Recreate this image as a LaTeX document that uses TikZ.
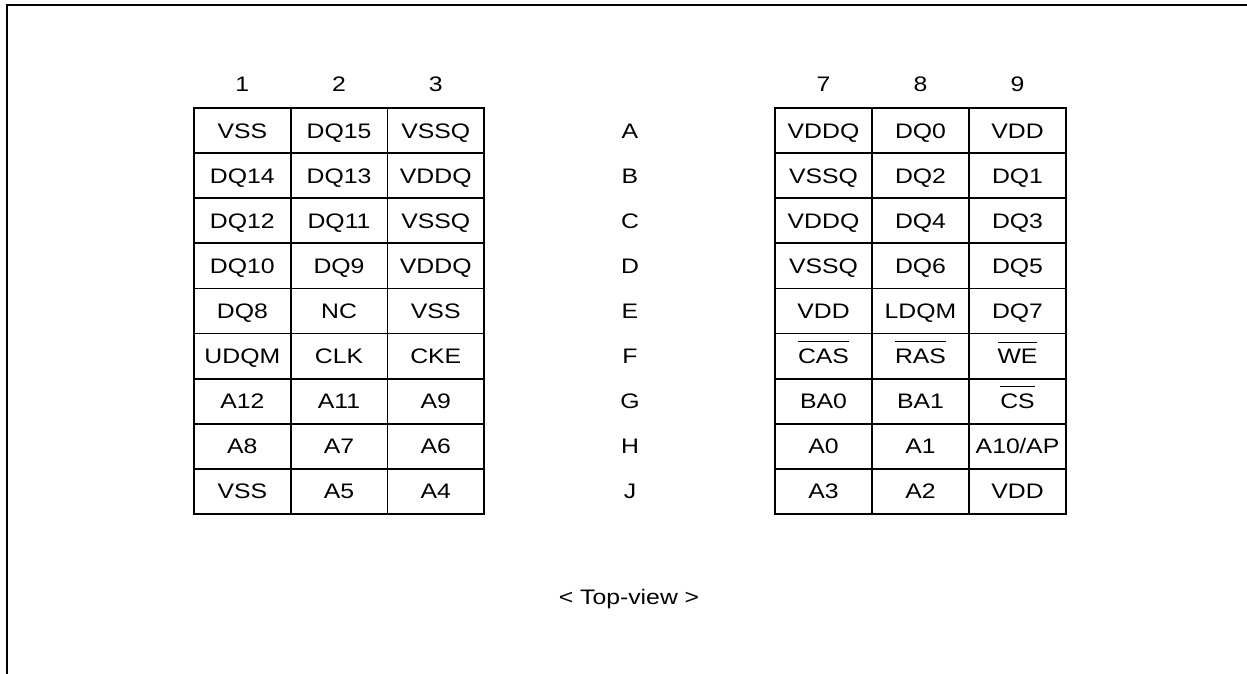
\documentclass[tikz,border=0pt]{standalone}
\usepackage{fontspec}
\setmainfont{Liberation Sans}[FakeStretch=1.18]
\newcommand\ovl[1]{\setbox0\hbox{#1}\rlap{\raisebox{\dimexpr\ht0+6.5pt\relax}{\rule{\wd0}{1pt}}}\box0}
\begin{document}
\begin{tikzpicture}[x=1pt,y=-1pt,
  font=\fontsize{21}{25}\selectfont,
  txt/.style={inner sep=0pt,text height=15pt,text depth=0pt},
  cell/.style={txt,draw,line width=1.8pt,minimum width=96.7pt,minimum height=45.1pt},
  frame/.style={line width=1.8pt}]
\useasboundingbox (0,0) rectangle (1247,674);
\coordinate (tl) at (7,5);
\coordinate (tr) at (1247,5);
\coordinate (bl) at (7,674);
\draw[frame] (tr) -- (tl) -- (bl);
% column headers
\foreach \t [count=\i] in {1,2,3}
  \node[txt] (hl\i) at ({194+96.7*(\i-0.5)},84) {\t};
\foreach \t [count=\i] in {7,8,9}
  \node[txt] (hr\i) at ({775+97*(\i-0.5)},84) {\t};
% left grid
\foreach \r/\a/\b/\c [count=\j] in {A/VSS/DQ15/VSSQ, B/DQ14/DQ13/VDDQ, C/DQ12/DQ11/VSSQ, D/DQ10/DQ9/VDDQ, E/DQ8/NC/VSS, F/UDQM/CLK/CKE, G/A12/A11/A9, H/A8/A7/A6, J/VSS/A5/A4}{
  \node[cell] (L-\j-1) at ({194+96.7*0.5},{108+45.1*(\j-0.5)}) {\a};
  \node[cell] (L-\j-2) at ({194+96.7*1.5},{108+45.1*(\j-0.5)}) {\b};
  \node[cell] (L-\j-3) at ({194+96.7*2.5},{108+45.1*(\j-0.5)}) {\c};
  \node[txt] (row-\j) at (630,{108+45.1*(\j-0.5)}) {\r};
}
% right grid
\foreach \a/\b/\c [count=\j] in {VDDQ/DQ0/VDD, VSSQ/DQ2/DQ1, VDDQ/DQ4/DQ3, VSSQ/DQ6/DQ5, VDD/LDQM/DQ7, \ovl{CAS}/\ovl{RAS}/\ovl{WE}, BA0/BA1/\ovl{CS}, A0/A1/{A10\kern-0.5pt/AP}, A3/A2/VDD}{
  \node[cell] (R-\j-1) at ({775+97*0.5},{108+45.1*(\j-0.5)}) {\a};
  \node[cell] (R-\j-2) at ({775+97*1.5},{108+45.1*(\j-0.5)}) {\b};
  \node[cell] (R-\j-3) at ({775+97*2.5},{108+45.1*(\j-0.5)}) {\c};
}
\node[txt] (topview) at (629,597) {< Top-view >};
\end{tikzpicture}
\end{document}
